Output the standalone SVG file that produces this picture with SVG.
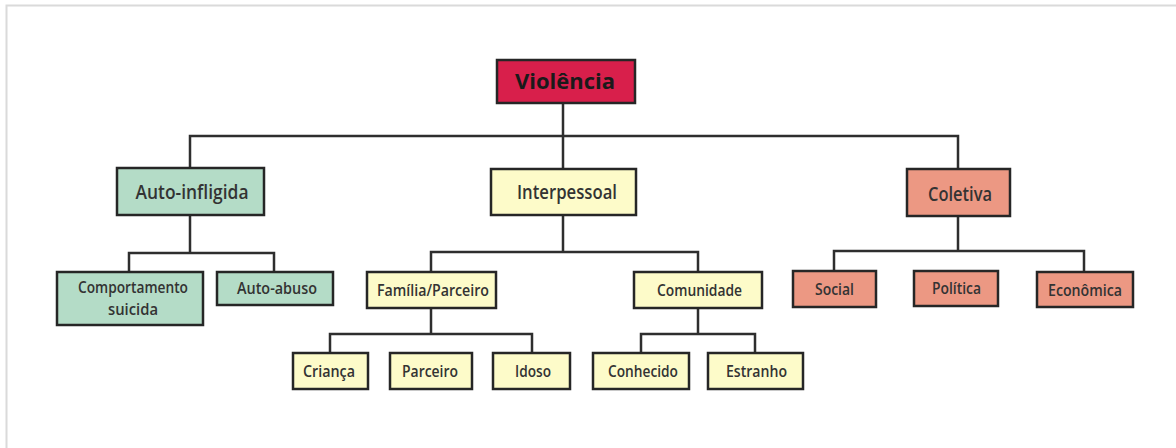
<svg xmlns="http://www.w3.org/2000/svg" width="1176" height="448" viewBox="0 0 1176 448">
<style>
.bx{stroke:#262626;stroke-width:2.5}
.red{fill:#d81f4b}
.grn{fill:#b4dcc7}
.yel{fill:#fdfbc9}
.sal{fill:#ec9883}
text{font-family:"Open Sans","DejaVu Sans",sans-serif;font-weight:600;fill:#333;text-anchor:middle}
.t0{font-size:21px;font-weight:700;fill:#1a1a1a}
.t1{font-size:19px}
.t2{font-size:16px}
.ln{fill:none;stroke:#2e2e2e;stroke-width:2.5}
</style>
<rect width="1176" height="448" fill="#fff"/>
<path d="M6.5 448V5.5H1176" fill="none" stroke="#dadada" stroke-width="2"/>
<g id="connectors" class="ln">
<path d="M563 103V136M190 168V136H958V169M563 136V169"/>
<path d="M190 215V253M129 272V253H274V272"/>
<path d="M563 215V252M431 272V252H698V272"/>
<path d="M958 216V251M834 271V251H1084V272"/>
<path d="M431 308V334M330 353V334H532V353"/>
<path d="M698 308V334M641 353V334H755V353"/>
</g>
<g id="violencia"><rect class="bx red" x="497" y="60" width="138" height="43"/><text class="t0" x="565" y="89" textLength="100" lengthAdjust="spacingAndGlyphs">Violência</text></g>
<g id="auto-infligida"><rect class="bx grn" x="117" y="168" width="147" height="47"/><text class="t1" x="192" y="199" textLength="113" lengthAdjust="spacingAndGlyphs">Auto-infligida</text></g>
<g id="interpessoal"><rect class="bx yel" x="491" y="169" width="145" height="46"/><text class="t1" x="567" y="199" textLength="100" lengthAdjust="spacingAndGlyphs">Interpessoal</text></g>
<g id="coletiva"><rect class="bx sal" x="907" y="169" width="103" height="47"/><text class="t1" x="960" y="201" textLength="64" lengthAdjust="spacingAndGlyphs">Coletiva</text></g>
<g id="comportamento-suicida"><rect class="bx grn" x="57" y="272" width="146" height="53"/><text class="t2" x="133" y="293" textLength="110" lengthAdjust="spacingAndGlyphs">Comportamento</text><text class="t2" x="133" y="315" textLength="50" lengthAdjust="spacingAndGlyphs">suicida</text></g>
<g id="auto-abuso"><rect class="bx grn" x="217" y="272" width="116" height="33"/><text class="t2" x="277" y="294" textLength="80" lengthAdjust="spacingAndGlyphs">Auto-abuso</text></g>
<g id="familia-parceiro"><rect class="bx yel" x="367" y="272" width="129" height="36"/><text class="t2" x="433" y="296" textLength="112" lengthAdjust="spacingAndGlyphs">Família/Parceiro</text></g>
<g id="comunidade"><rect class="bx yel" x="634" y="272" width="128" height="36"/><text class="t2" x="699.5" y="296" textLength="85" lengthAdjust="spacingAndGlyphs">Comunidade</text></g>
<g id="social"><rect class="bx sal" x="793" y="271" width="83" height="36"/><text class="t2" x="834.5" y="295" textLength="39" lengthAdjust="spacingAndGlyphs">Social</text></g>
<g id="politica"><rect class="bx sal" x="914" y="271" width="84" height="35"/><text class="t2" x="956.5" y="294" textLength="49" lengthAdjust="spacingAndGlyphs">Política</text></g>
<g id="economica"><rect class="bx sal" x="1037" y="272" width="96" height="35"/><text class="t2" x="1085" y="296" textLength="74" lengthAdjust="spacingAndGlyphs">Econômica</text></g>
<g id="crianca"><rect class="bx yel" x="293" y="353" width="75" height="36"/><text class="t2" x="329" y="377" textLength="52" lengthAdjust="spacingAndGlyphs">Criança</text></g>
<g id="parceiro"><rect class="bx yel" x="390" y="353" width="82" height="36"/><text class="t2" x="430" y="377" textLength="56" lengthAdjust="spacingAndGlyphs">Parceiro</text></g>
<g id="idoso"><rect class="bx yel" x="493" y="353" width="77" height="36"/><text class="t2" x="533" y="377" textLength="36" lengthAdjust="spacingAndGlyphs">Idoso</text></g>
<g id="conhecido"><rect class="bx yel" x="593" y="353" width="96" height="36"/><text class="t2" x="643" y="377" textLength="70" lengthAdjust="spacingAndGlyphs">Conhecido</text></g>
<g id="estranho"><rect class="bx yel" x="708" y="353" width="95" height="36"/><text class="t2" x="756.5" y="377" textLength="61" lengthAdjust="spacingAndGlyphs">Estranho</text></g>
</svg>
